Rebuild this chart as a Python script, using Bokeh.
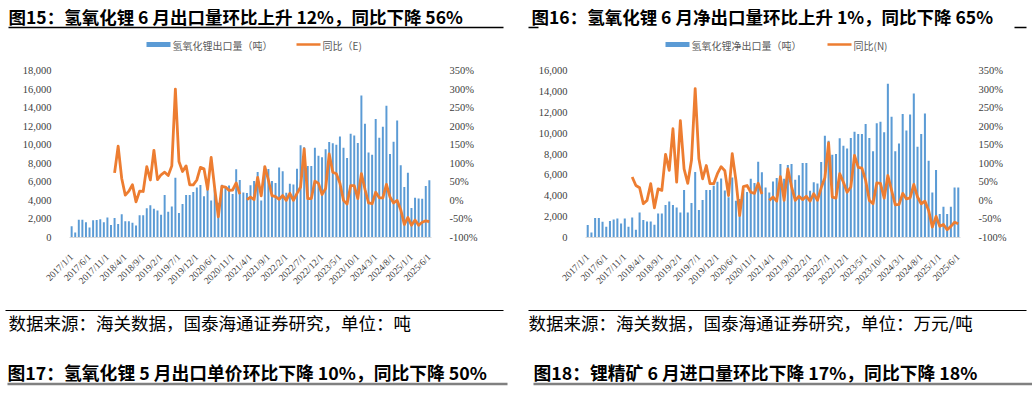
import math
import numpy as np
from bokeh.plotting import figure
from bokeh.models import Range1d, LinearAxis, FixedTicker, NumeralTickFormatter, PrintfTickFormatter
from bokeh.layouts import column, row
from bokeh.embed import file_html
from bokeh.resources import INLINE
from bokeh.core.properties import value

NAN = float("nan")

# ---------------- data ----------------
TICK_LABELS = ["2017/1/1", "2017/6/1", "2017/11/1", "2018/4/1", "2018/9/1", "2019/2/1",
               "2019/7/1", "2019/12/1", "2020/6/1", "2020/11/1", "2021/4/1", "2021/9/1",
               "2022/2/1", "2022/7/1", "2022/12/1", "2023/5/1", "2023/10/1", "2024/3/1",
               "2024/8/1", "2025/1/1", "2025/6/1"]

# Fig 15: lithium hydroxide exports (t) and YoY (%)
EXPORT_T = [1200, 540, 1920, 1900, 1650, 1080, 1850, 1880, 1970, 1650,
            2150, 1350, 2100, 1450, 2500, 1750, 1750, 1600, 1300, 2400,
            2400, 3140, 3470, 3100, 2900, 2450, 4580, 2780, 3350, 6440,
            2640, 3600, 4580, 4580, 4900, 5380, 5650, 4450, 5850, 4000,
            5200, 3750, 5690, 5500, 5600, 4700, 7350, 6200, 4850, 4800,
            5630, 6100, 7050, 4000, 7700, 7380, 6100, 5880, 7550, 7150,
            4820, 5800, 5720, 7420, 9940, 9740, 7700, 7700, 9670, 8800,
            8660, 9500, 10280, 10150, 10010, 10890, 9670, 8560, 11190, 11000,
            10180, 15300, 12270, 9160, 8930, 12770, 10750, 11930, 14190, 9000,
            10320, 12600, 7790, 5430, 6980, 3170, 4280, 4210, 4180, 5560,
            6170]
EXPORT_YOY = [NAN, NAN, NAN, NAN, NAN, NAN, NAN, NAN, NAN, NAN,
              NAN, NAN, 74, 146, 59, 14, 25, 42, -4, 25,
              24, 91, 55, 135, 56, 69, 76, 67, 93, 300,
              105, 78, 93, 42, 42, 55, 89, 85, 30, 116,
              32, -44, 38, 36, 27, 28, 47, 17, NAN, 2,
              9, 2, 62, 12, 91, 55, 13, 10, 3, 13,
              0, 19, 0, 19, 36, 139, 5, 5, 52, 46,
              16, 32, 125, 76, 72, 46, 0, -10, 40, 40,
              5, 72, 30, -7, -9, 22, 7, 7, 43, 9,
              -7, 0, -25, -65, -46, -67, -53, -67, -59, -55,
              -57]

# Fig 16: lithium hydroxide net exports (t) and YoY (%)
NET_EXPORT_T = [1190, 480, 1860, 1860, 1510, 1030, 1570, 1730, 1830, 1340,
                1830, 1030, 1920, 740, 2400, 1670, 1540, 1540, 1220, 2300,
                2300, 3110, 3460, 3110, 2880, 2400, 4550, 2400, 3300, 6280,
                2630, 3600, 4550, 4550, 4960, 5350, 5660, 4500, 3850, 5760,
                3520, 3700, 4640, 4350, 5630, 5220, 7260, 6240, 4800, 4320,
                5370, 5700, 7040, 5630, 6940, 7040, 5540, 5960, 7140, 7140,
                4480, 5290, 5180, 7230, 9740, 9260, 7940, 8000, 9500, 8780,
                8530, 9530, 10140, 9920, 9920, 10880, 9530, 8260, 10940, 11100,
                10080, 14720, 11580, 8260, 9000, 11840, 10240, 11780, 13790, 8700,
                9920, 11870, 7360, 4320, 6470, 2240, 2940, 2240, 2940, 4800,
                4800]
NET_EXPORT_YOY = [NAN, NAN, NAN, NAN, NAN, NAN, NAN, NAN, NAN, NAN,
                  NAN, NAN, 63, 40, 34, -9, 0, 45, -20, 31,
                  27, 124, 81, 193, 49, 215, 85, 46, 108, 301,
                  112, 58, 94, 45, 45, 72, 91, 80, 13, 126,
                  54, -41, 37, 40, 22, 19, 46, 17, NAN, 0,
                  9, -2, 64, 0, 85, 37, 0, 11, 2, 11,
                  -2, 18, 0, 34, 61, 155, 9, 6, 72, 49,
                  22, 36, 121, 89, 87, 54, 0, -9, 47, 46,
                  6, 67, 27, -12, -11, 19, 4, 7, 43, 9,
                  -9, -2, -27, -72, -43, -70, -65, -79, -70, -59,
                  -63]

LEFT_TICKS_15 = [0, 2000, 4000, 6000, 8000, 10000, 12000, 14000, 16000, 18000]
LEFT_TICKS_16 = [0, 2000, 4000, 6000, 8000, 10000, 12000, 14000, 16000]
PCT_TICKS = [-100, -50, 0, 50, 100, 150, 200, 250, 300, 350]

TITLE_15 = "图15：氢氧化锂 6 月出口量环比上升 12%，同比下降 56%"
TITLE_16 = "图16：氢氧化锂 6 月净出口量环比上升 1%，同比下降 65%"
LEG_BAR_15 = "氢氧化锂出口量（吨）"
LEG_LINE_15 = "同比（E)"
LEG_BAR_16 = "氢氧化锂净出口量（吨）"
LEG_LINE_16 = "同比(N)"
SOURCE_15 = "数据来源：海关数据，国泰海通证券研究，单位：吨"
SOURCE_16 = "数据来源：海关数据，国泰海通证券研究，单位：万元/吨"
CAPTION_17 = "图17：氢氧化锂 5 月出口单价环比下降 10%，同比下降 50%"
CAPTION_18 = "图18：锂精矿 6 月进口量环比下降 17%，同比下降 18%"

# ---------------- style ----------------
BLUE = "#5B9BD5"
ORANGE = "#ED7D31"
AXIS_TXT = "#404040"
CJK = value("Noto Sans CJK SC")
SERIF = "Liberation Serif"
PAGE_W = 1032


def blank(width, height, x0, x1, ytop, ybot):
    p = figure(width=width, height=height, output_backend="svg", toolbar_location=None,
               x_range=Range1d(x0, x1), y_range=Range1d(ybot, ytop),
               x_axis_location=None, y_axis_location=None,
               min_border=0, min_border_left=0, min_border_right=0,
               min_border_top=0, min_border_bottom=0)
    p.outline_line_color = None
    p.grid.grid_line_color = None
    return p


def chart(bars, yoy, ymax, lticks, width, height, bl, br, bt, bb):
    idx = list(range(len(bars)))
    p = figure(width=width, height=height, output_backend="svg", toolbar_location=None,
               x_range=Range1d(-0.6, len(bars) - 0.4), y_range=Range1d(0, ymax),
               min_border_left=bl, min_border_right=br, min_border_top=bt, min_border_bottom=bb)
    p.outline_line_color = None
    p.grid.grid_line_color = None
    p.extra_y_ranges = {"pct": Range1d(-100, 350)}
    p.vbar(x=idx, top=bars, width=0.55, color=BLUE, line_color=None)
    p.line(x=idx, y=np.array(yoy, dtype=float), y_range_name="pct", color=ORANGE,
           line_width=2.8, line_join="round")

    xa = p.xaxis[0]
    xa.ticker = FixedTicker(ticks=[i * 5 for i in range(len(TICK_LABELS))])
    xa.major_label_overrides = {i * 5: lab for i, lab in enumerate(TICK_LABELS)}
    xa.major_label_orientation = math.pi / 4
    xa.major_tick_line_color = None
    xa.minor_tick_line_color = None
    xa.axis_line_color = "#D9D9D9"
    xa.major_label_text_font = SERIF
    xa.major_label_text_font_size = "9.5px"
    xa.major_label_text_color = AXIS_TXT
    xa.major_label_standoff = 12

    ya = p.yaxis[0]
    ya.ticker = FixedTicker(ticks=lticks)
    ya.formatter = NumeralTickFormatter(format="0,0")
    ya.axis_line_color = None
    ya.major_tick_line_color = None
    ya.minor_tick_line_color = None
    ya.major_label_standoff = 12
    ya.major_label_text_font = SERIF
    ya.major_label_text_font_size = "10.5px"
    ya.major_label_text_color = AXIS_TXT

    ra = LinearAxis(y_range_name="pct", ticker=FixedTicker(ticks=PCT_TICKS),
                    formatter=PrintfTickFormatter(format="%d%%"))
    ra.axis_line_color = None
    ra.major_tick_line_color = None
    ra.minor_tick_line_color = None
    ra.major_label_standoff = 12
    ra.major_label_text_font = SERIF
    ra.major_label_text_font_size = "10.5px"
    ra.major_label_text_color = AXIS_TXT
    p.add_layout(ra, "right")
    return p


# ---------------- header (page y 0..52) ----------------
hdr = blank(PAGE_W, 52, 0, PAGE_W, 0, 52)
hdr.text(x=[8, 531], y=[15.5, 15.5], text=[TITLE_15, TITLE_16], text_font=CJK,
         text_font_style="bold", text_font_size="17.5px", text_baseline="middle",
         text_align="left", text_color="#000000")
hdr.segment(x0=[8, 528, 1014], y0=[27, 27, 27], x1=[503, 538, 1026], y1=[27, 27, 27],
            line_color="#000000", line_width=1.3)
# legends
hdr.segment(x0=[146, 665], y0=[44, 44], x1=[170, 689], y1=[44, 44],
            line_color=BLUE, line_width=5)
hdr.segment(x0=[296, 827], y0=[44, 44], x1=[320, 851], y1=[44, 44],
            line_color=ORANGE, line_width=2.5)
hdr.text(x=[172, 322, 691, 853], y=[44.5, 44.5, 44.5, 44.5],
         text=[LEG_BAR_15, LEG_LINE_15, LEG_BAR_16, LEG_LINE_16], text_font=CJK,
         text_font_size="10px", text_baseline="middle", text_align="left",
         text_color="#595959")

# ---------------- charts (page y 52..300) ----------------
c15 = chart(EXPORT_T, EXPORT_YOY, 18000, LEFT_TICKS_15, 524, 248, 69, 93, 13, 57)
c16 = chart(NET_EXPORT_T, NET_EXPORT_YOY, 16000, LEFT_TICKS_16, 508, 248, 61, 72, 18, 63)

# ---------------- footer (page y 300..396) ----------------
ftr = blank(PAGE_W, 96, 0, PAGE_W, 300, 396)
ftr.segment(x0=[5, 528], y0=[310, 310], x1=[503, 1026], y1=[310, 310],
            line_color="#000000", line_width=1.2)
ftr.text(x=[8, 528], y=[322, 322], text=[SOURCE_15, SOURCE_16], text_font=CJK,
         text_font_size="17.5px", text_baseline="middle", text_align="left",
         text_color="#000000")
ftr.text(x=[7, 533], y=[371, 371], text=[CAPTION_17, CAPTION_18], text_font=CJK,
         text_font_style="bold", text_font_size="17.8px", text_baseline="middle",
         text_align="left", text_color="#000000")
ftr.segment(x0=[7, 533], y0=[383.5, 383.5], x1=[507, 1032], y1=[383.5, 383.5],
            line_color="#808080", line_width=2.5)

layout = column(hdr, row(c15, c16), ftr)
open("out.html", "w").write(file_html(layout, INLINE))
